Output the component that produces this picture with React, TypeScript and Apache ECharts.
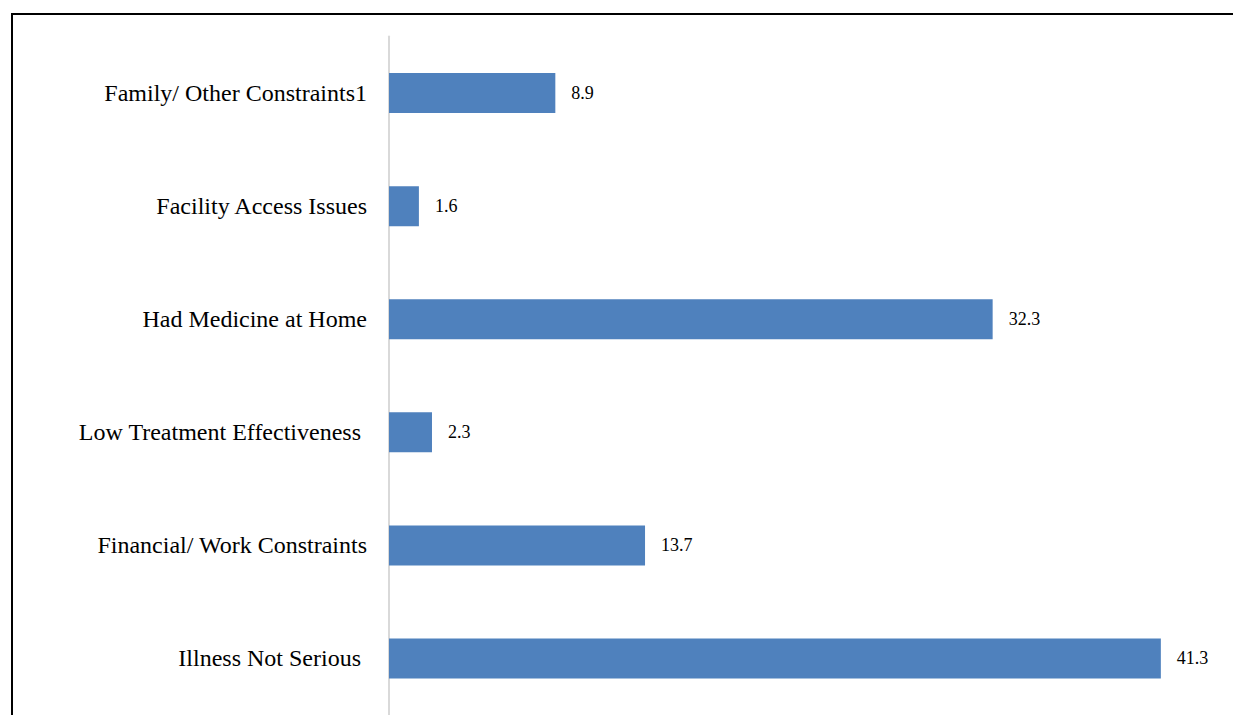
import React, { useEffect, useRef } from "react";
import * as echarts from "echarts";

const categories = [
  "Illness Not Serious ",
  "Financial/ Work Constraints",
  "Low Treatment Effectiveness ",
  "Had Medicine at Home",
  "Facility Access Issues",
  "Family/ Other Constraints1",
];
const values = [41.3, 13.7, 2.3, 32.3, 1.6, 8.9];

const SERIF = "'Times New Roman', 'Liberation Serif', serif";

export default function App() {
  const ref = useRef<HTMLDivElement>(null);
  useEffect(() => {
    const chart = echarts.init(ref.current!, undefined, { renderer: "svg" });
    chart.setOption({
      animation: false,
      backgroundColor: "#ffffff",
      graphic: [
        {
          type: "rect",
          shape: { x: 12, y: 14, width: 1400, height: 1000 },
          style: { fill: "none", stroke: "#000000", lineWidth: 2 },
          silent: true,
        },
      ],
      grid: { left: 389, right: 3, top: 36.5, bottom: -1.5, containLabel: false },
      xAxis: {
        type: "value",
        min: 0,
        max: 45,
        show: false,
      },
      yAxis: {
        type: "category",
        data: categories,
        axisLine: { show: true, lineStyle: { color: "#d9d9d9", width: 2 } },
        axisTick: { show: false },
        axisLabel: {
          margin: 22,
          fontFamily: SERIF,
          fontSize: 24,
          color: "#000000",
        },
      },
      series: [
        {
          type: "bar",
          data: values,
          barWidth: 40,
          itemStyle: { color: "#4f81bd" },
          label: {
            show: true,
            position: "right",
            distance: 16,
            fontFamily: SERIF,
            fontSize: 18,
            color: "#000000",
            formatter: (p: any) => p.value.toFixed(1),
          },
        },
      ],
    });
    return () => chart.dispose();
  }, []);
  return (
    <div
      ref={ref}
      style={{ position: "fixed", left: 0, top: 0, width: 1233, height: 715 }}
    />
  );
}
